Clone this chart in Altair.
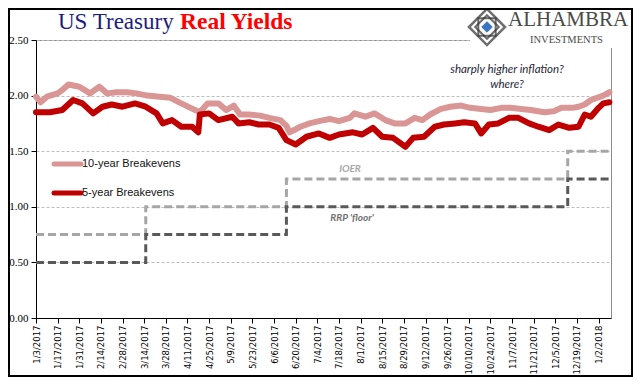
import altair as alt
import pandas as pd
from datetime import date

# ---------------- data ----------------
be10_dates = ["2017-01-03", "2017-01-06", "2017-01-10", "2017-01-17", "2017-01-20", "2017-01-24",
              "2017-01-31", "2017-02-07", "2017-02-13", "2017-02-18", "2017-02-24", "2017-03-03",
              "2017-03-09", "2017-03-16", "2017-03-24", "2017-03-31", "2017-04-07", "2017-04-13",
              "2017-04-19", "2017-04-24", "2017-05-01", "2017-05-06", "2017-05-11", "2017-05-15",
              "2017-05-21", "2017-05-28", "2017-06-03", "2017-06-10", "2017-06-14", "2017-06-16",
              "2017-06-19", "2017-06-23", "2017-06-29", "2017-07-05", "2017-07-12", "2017-07-18",
              "2017-07-25", "2017-07-28", "2017-08-04", "2017-08-10", "2017-08-17", "2017-08-23",
              "2017-08-30", "2017-09-05", "2017-09-10", "2017-09-15", "2017-09-22", "2017-09-28",
              "2017-10-05", "2017-10-11", "2017-10-18", "2017-10-24", "2017-10-31", "2017-11-06",
              "2017-11-13", "2017-11-19", "2017-11-28", "2017-12-04", "2017-12-09", "2017-12-16",
              "2017-12-20", "2017-12-24", "2017-12-28", "2018-01-05", "2018-01-09"]
be10_values = [1.99, 1.94, 1.99, 2.02, 2.05, 2.10,
               2.08, 2.02, 2.08, 2.02, 2.03, 2.03,
               2.02, 2.00, 1.99, 1.98, 1.93, 1.89,
               1.85, 1.93, 1.93, 1.87, 1.91, 1.83,
               1.83, 1.82, 1.80, 1.78, 1.73, 1.67,
               1.69, 1.72, 1.75, 1.77, 1.79, 1.77,
               1.80, 1.84, 1.81, 1.84, 1.78, 1.75,
               1.75, 1.80, 1.78, 1.83, 1.88, 1.90,
               1.91, 1.89, 1.88, 1.87, 1.89, 1.89,
               1.88, 1.87, 1.85, 1.86, 1.89, 1.89,
               1.90, 1.92, 1.96, 2.00, 2.03]

be5_dates = ["2017-01-03", "2017-01-12", "2017-01-20", "2017-01-27", "2017-02-02", "2017-02-09",
             "2017-02-15", "2017-02-21", "2017-02-28", "2017-03-08", "2017-03-15", "2017-03-22",
             "2017-03-26", "2017-04-01", "2017-04-07", "2017-04-14", "2017-04-18", "2017-04-19",
             "2017-04-25", "2017-05-01", "2017-05-10", "2017-05-14", "2017-05-21", "2017-05-27",
             "2017-06-03", "2017-06-09", "2017-06-14", "2017-06-20", "2017-06-27", "2017-07-05",
             "2017-07-12", "2017-07-18", "2017-07-27", "2017-08-02", "2017-08-09", "2017-08-15",
             "2017-08-22", "2017-08-30", "2017-09-04", "2017-09-11", "2017-09-18", "2017-09-24",
             "2017-10-01", "2017-10-07", "2017-10-14", "2017-10-18", "2017-10-23", "2017-10-29",
             "2017-11-05", "2017-11-11", "2017-11-18", "2017-11-24", "2017-12-01", "2017-12-07",
             "2017-12-14", "2017-12-20", "2017-12-24", "2017-12-28", "2018-01-02", "2018-01-05",
             "2018-01-09"]
be5_values = [1.85, 1.85, 1.87, 1.96, 1.93, 1.84,
              1.90, 1.92, 1.90, 1.93, 1.90, 1.84,
              1.75, 1.78, 1.72, 1.72, 1.67, 1.83,
              1.84, 1.78, 1.81, 1.75, 1.76, 1.74,
              1.74, 1.71, 1.60, 1.56, 1.63, 1.66,
              1.62, 1.65, 1.67, 1.65, 1.71, 1.63,
              1.62, 1.54, 1.62, 1.63, 1.72, 1.74,
              1.75, 1.76, 1.75, 1.66, 1.74, 1.75,
              1.80, 1.80, 1.75, 1.72, 1.69, 1.74,
              1.71, 1.72, 1.83, 1.81, 1.89, 1.93,
              1.94]

step_dates = ["2017-01-03", "2017-03-15", "2017-06-14", "2017-12-13", "2018-01-10"]
ioer_values = [0.75, 1.00, 1.25, 1.50, 1.50]
rrp_values = [0.50, 0.75, 1.00, 1.25, 1.25]

tick_dates = ["2017-01-03", "2017-01-17", "2017-01-31", "2017-02-14", "2017-02-28", "2017-03-14",
              "2017-03-28", "2017-04-11", "2017-04-25", "2017-05-09", "2017-05-23", "2017-06-06",
              "2017-06-20", "2017-07-04", "2017-07-18", "2017-08-01", "2017-08-15", "2017-08-29",
              "2017-09-12", "2017-09-26", "2017-10-10", "2017-10-24", "2017-11-07", "2017-11-21",
              "2017-12-05", "2017-12-19", "2018-01-02"]
y_ticks = [0.0, 0.5, 1.0, 1.5, 2.0, 2.5]

title_part1 = "US Treasury"
title_part2 = "Real Yields"
legend_10 = "10-year Breakevens"
legend_5 = "5-year Breakevens"

# ---------------- helpers ----------------
def dt(s):
    d = date.fromisoformat(s)
    return alt.DateTime(year=d.year, month=d.month, date=d.day)

W, H = 575, 278

x_enc = alt.X(
    "date:T",
    scale=alt.Scale(domain=[dt("2017-01-03"), dt("2018-01-10")]),
    axis=alt.Axis(
        values=[dt(s) for s in tick_dates], format="%-m/%-d/%Y", labelAngle=270,
        labelFont="DejaVu Sans", labelFontSize=8.5, labelColor="black",
        tickColor="black", tickSize=5, domainColor="black", domainWidth=1,
        labelOverlap=False, labelPadding=2, grid=False, title=None,
    ),
)
y_enc = alt.Y(
    "value:Q",
    scale=alt.Scale(domain=[0, 2.5]),
    axis=alt.Axis(
        values=y_ticks, format=".2f", labelFont="Liberation Serif", labelFontSize=11,
        labelColor="black", tickColor="black", tickSize=5, domainColor="black",
        domainWidth=1, labelPadding=3, grid=True, gridColor="#bdbdbd",
        gridDash=[3, 2], gridWidth=1, title=None,
    ),
)

df10 = pd.DataFrame({"date": be10_dates, "value": be10_values})
df5 = pd.DataFrame({"date": be5_dates, "value": be5_values})
dfi = pd.DataFrame({"date": step_dates, "value": ioer_values})
dfr = pd.DataFrame({"date": step_dates, "value": rrp_values})

one = alt.Data(values=[{"a": 1}])


def txt(text, x, y, **kw):
    return alt.Chart(one).mark_text(text=text, **kw).encode(x=alt.value(x), y=alt.value(y))


ioer = alt.Chart(dfi).mark_line(interpolate="step-after", color="#a6a6a6", strokeWidth=3,
                                strokeDash=[8, 4]).encode(x=x_enc, y=y_enc)
rrp = alt.Chart(dfr).mark_line(interpolate="step-after", color="#595959", strokeWidth=3,
                               strokeDash=[8, 4]).encode(x=x_enc, y=y_enc)
line10 = alt.Chart(df10).mark_line(color="#d99694", strokeWidth=6, strokeJoin="round",
                                   strokeCap="round").encode(x=x_enc, y=y_enc)
line5 = alt.Chart(df5).mark_line(color="#c00000", strokeWidth=6, strokeJoin="round",
                                 strokeCap="round").encode(x=x_enc, y=y_enc)

# legend (inside plot)
leg10 = alt.Chart(one).mark_rule(color="#d99694", strokeWidth=5, strokeCap="round").encode(
    x=alt.value(18), x2=alt.value(45), y=alt.value(124))
leg5 = alt.Chart(one).mark_rule(color="#c00000", strokeWidth=5, strokeCap="round").encode(
    x=alt.value(18), x2=alt.value(45), y=alt.value(153))
legt10 = txt(legend_10, 46, 124, align="left", baseline="middle", font="Liberation Sans",
             fontSize=11, color="#111111")
legt5 = txt(legend_5, 46, 153, align="left", baseline="middle", font="Liberation Sans",
            fontSize=11, color="#111111")

# annotations
ann1 = txt("sharply higher inflation?", 471, 30, align="center", baseline="middle", font="Lato",
           fontStyle="italic", fontSize=11.5, color="#1f1f3a")
ann2 = txt("where?", 471, 45, align="center", baseline="middle", font="Lato",
           fontStyle="italic", fontSize=11.5, color="#1f1f3a")
ann_ioer = txt("IOER", 314, 129, align="center", baseline="middle", font="Lato",
               fontStyle="italic", fontWeight="bold", fontSize=10, color="#a6a6a6")
ann_rrp = txt("RRP 'floor'", 316, 178, align="center", baseline="middle", font="Lato",
              fontStyle="italic", fontWeight="bold", fontSize=10, color="#707070")

# title
t1 = txt(title_part1, 22, -11.5, align="left", baseline="alphabetic", font="Liberation Serif",
         fontSize=23, color="#1c1c80")
t2 = txt(title_part2, 144, -11.5, align="left", baseline="alphabetic", font="Liberation Serif",
         fontSize=23.5, fontWeight="bold", color="#ff0000")

# logo
logo_bg = alt.Chart(one).mark_rect(color="white").encode(
    x=alt.value(434), x2=alt.value(592), y=alt.value(-31), y2=alt.value(8))
d_outer = alt.Chart(one).mark_point(shape="diamond", size=1300, filled=True, fill="white",
                                    stroke="#333333", strokeWidth=2.5).encode(
    x=alt.value(451), y=alt.value(-13))
d_sq = alt.Chart(one).mark_point(shape="square", size=300, filled=False,
                                 stroke="#333333", strokeWidth=2).encode(
    x=alt.value(451), y=alt.value(-13))
d_mid = alt.Chart(one).mark_point(shape="diamond", size=560, filled=False,
                                  stroke="#333333", strokeWidth=2).encode(
    x=alt.value(451), y=alt.value(-13))
d_in = alt.Chart(one).mark_point(shape="diamond", size=110, filled=True, fill="#3a74c2",
                                 stroke="#3a74c2", strokeWidth=1, opacity=1).encode(
    x=alt.value(451), y=alt.value(-13))
lg1 = txt("ALHAMBRA", 472, -14, align="left", baseline="alphabetic", font="Liberation Serif",
          fontSize=21, color="#4a4a4a")
lg2 = txt("INVESTMENTS", 494, 3, align="left", baseline="alphabetic", font="Liberation Serif",
          fontSize=10.5, color="#4a4a4a")

# outer frame
frame = alt.Chart(one).mark_rect(fillOpacity=0, stroke="black", strokeWidth=2).encode(
    x=alt.value(-27), x2=alt.value(596), y=alt.value(-31), y2=alt.value(336))

chart = alt.layer(
    ioer, rrp, line10, line5, leg10, leg5, legt10, legt5, ann1, ann2, ann_ioer, ann_rrp,
    t1, t2, logo_bg, d_outer, d_sq, d_mid, d_in, lg1, lg2, frame,
).properties(
    width=W, height=H,
    padding={"left": 28, "top": 32, "right": 22, "bottom": 62},
    autosize=alt.AutoSizeParams(type="none"),
    background="white",
).configure_view(stroke="#8c8c8c", strokeWidth=1)

chart.save("out.html", embed_options={"renderer": "svg", "actions": False})
